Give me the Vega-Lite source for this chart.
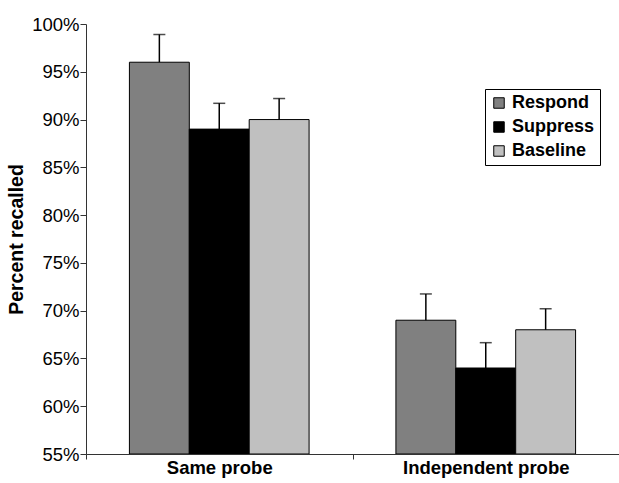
{
  "$schema": "https://vega.github.io/schema/vega-lite/v6.json",
  "width": 533,
  "height": 430,
  "autosize": {"type": "none"},
  "padding": {"left": 86, "top": 24, "right": 0, "bottom": 29},
  "background": "white",
  "config": {
    "view": {"stroke": null},
    "font": "Liberation Sans",
    "axis": {"grid": false, "domainColor": "#333", "tickColor": "#333", "labelColor": "black", "titleColor": "black"}
  },
  "data": {
    "values": [
      {"probe": "Same probe", "condition": "Respond", "value": 0.96, "upper": 0.989},
      {"probe": "Same probe", "condition": "Suppress", "value": 0.89, "upper": 0.917},
      {"probe": "Same probe", "condition": "Baseline", "value": 0.90, "upper": 0.922},
      {"probe": "Independent probe", "condition": "Respond", "value": 0.69, "upper": 0.7175},
      {"probe": "Independent probe", "condition": "Suppress", "value": 0.64, "upper": 0.6665},
      {"probe": "Independent probe", "condition": "Baseline", "value": 0.68, "upper": 0.702}
    ]
  },
  "encoding": {
    "x": {
      "field": "probe", "type": "nominal", "sort": ["Same probe", "Independent probe"],
      "scale": {"paddingInner": 0, "paddingOuter": 0},
      "axis": {"title": null, "labelAngle": 0, "labelFontSize": 18.5, "labelFontWeight": "bold", "tickBand": "extent", "tickSize": 5, "labelPadding": -1, "domainWidth": 1, "zindex": 1}
    },
    "xOffset": {"field": "condition", "type": "nominal", "scale": {"domain": ["Respond", "Suppress", "Baseline"], "paddingInner": 0, "paddingOuter": 0.725}}
  },
  "layer": [
    {
      "mark": {"type": "bar", "stroke": "black", "strokeWidth": 1},
      "encoding": {
        "y": {
          "field": "value", "type": "quantitative",
          "scale": {"domain": [0.55, 1.0], "zero": false, "nice": false},
          "axis": {"title": "Percent recalled", "titleFontSize": 19.5, "titleFontWeight": "bold", "titlePadding": 5, "format": ".0%", "values": [0.55, 0.6, 0.65, 0.7, 0.75, 0.8, 0.85, 0.9, 0.95, 1.0], "labelFontSize": 18.5, "tickSize": 6, "labelPadding": 1}
        },
        "y2": {"datum": 0.55},
        "fill": {
          "field": "condition", "type": "nominal",
          "scale": {"domain": ["Respond", "Suppress", "Baseline"], "range": ["#808080", "#000000", "#c0c0c0"]},
          "legend": {
            "title": null, "orient": "none", "legendX": 399, "legendY": 65,
            "strokeColor": "black", "padding": 5, "fillColor": "white",
            "symbolType": "square", "symbolSize": 110, "symbolStrokeColor": "black", "symbolStrokeWidth": 1,
            "labelFontSize": 18, "labelFontWeight": "bold", "labelColor": "black", "rowPadding": 6, "labelOffset": 4
          }
        }
      }
    },
    {
      "mark": {"type": "rule", "color": "black", "strokeWidth": 1.5},
      "encoding": {
        "y": {"field": "value", "type": "quantitative"},
        "y2": {"field": "upper"}
      }
    },
    {
      "mark": {"type": "tick", "color": "black", "size": 12, "thickness": 1.5},
      "encoding": {
        "y": {"field": "upper", "type": "quantitative"}
      }
    }
  ]
}
